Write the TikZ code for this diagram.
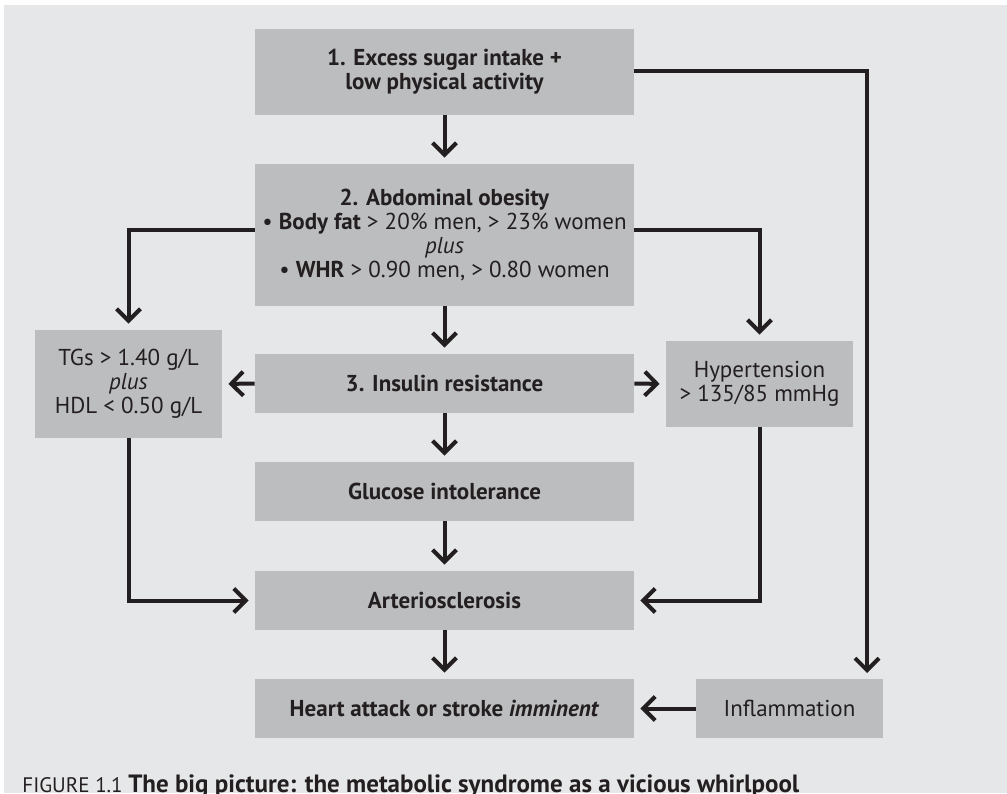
\documentclass[tikz,border=0pt]{standalone}
\usepackage{fontspec}
\setmainfont{PT Sans}
\usetikzlibrary{arrows.meta}
\definecolor{pagebg}{HTML}{E6E7E8}
\definecolor{boxgray}{HTML}{BCBDBF}
\definecolor{ink}{HTML}{231F20}
\tikzset{
  box/.style={fill=boxgray, text=ink, align=center, inner sep=0pt,
    font=\fontsize{11.5}{12}\selectfont},
  mainbox/.style={box, minimum width=189.5pt},
  boldbox/.style={mainbox, font=\fontsize{11.5}{12}\selectfont\bfseries},
  sidebox/.style={box, minimum width=93.5pt},
  arr/.style={draw=ink, line width=2pt,
    -{Straight Barb[length=6pt,width=12pt]}, shorten >=3pt},
}
\begin{document}
\begin{tikzpicture}[x=0.5pt,y=-0.5pt]
\useasboundingbox (0,0) rectangle (1007,793);
\fill[pagebg] (4,5) rectangle (1007,793);

% main column
\node[boldbox, minimum height=43pt] (sugar) at (444.5,72)
  {1. Excess sugar intake +\\low physical activity};
\node[mainbox, minimum height=71pt] (obesity) at (444.5,235)
  {\textbf{2. Abdominal obesity}\\
   \textbullet\ \textbf{Body fat} > 20\% men, > 23\% women\\
   \textit{plus}\\
   \textbullet\ \textbf{WHR} > 0.90 men, > 0.80 women};
\node[boldbox, minimum height=29.5pt] (insulin) at (444.5,383.5) {3. Insulin resistance};
\node[boldbox, minimum height=29.5pt] (glucose) at (444.5,491.5) {Glucose intolerance};
\node[boldbox, minimum height=29.5pt] (arterio) at (444.5,600.5) {Arteriosclerosis};
\node[boldbox, minimum height=29.5pt] (heart) at (444.5,708.5) {Heart attack or stroke \textit{imminent}};

% side boxes
\node[sidebox, minimum height=54pt] (lipids) at (128.5,384)
  {TGs > 1.40 g/L\\\textit{plus}\\HDL < 0.50 g/L};
\node[sidebox, minimum height=43pt] (hyper) at (759.5,384)
  {Hypertension\\> 135/85 mmHg};
\node[sidebox, minimum height=29.5pt] (inflam) at (789.5,708.5) {Inflammation};
\coordinate (inflamin) at (867,679);

% connectors
\foreach \a/\b in {sugar/obesity, obesity/insulin, insulin/glucose, glucose/arterio, arterio/heart}
  \draw[arr] (\a.south) -- (\b.north);
\draw[arr] ([yshift=0.5pt]sugar.east) -| (inflamin);
\draw[arr] ([yshift=2.5pt]obesity.west) -| (lipids.north);
\draw[arr] ([yshift=2.5pt]obesity.east) -| (hyper.north);
\draw[arr] (insulin.west) -- (lipids.east);
\draw[arr] (insulin.east) -- (hyper.west);
\draw[arr] (lipids.south) |- (arterio.west);
\draw[arr] (hyper.south) |- (arterio.east);
\draw[arr] (inflam.west) -- (heart.east);

% caption
\node[anchor=base west, text=ink, inner sep=0pt] (caption) at (22,792)
  {\fontsize{10.5}{12}\selectfont FIGURE 1.1 \fontsize{12.5}{12}\selectfont\bfseries The big picture: the metabolic syndrome as a vicious whirlpool};
\end{tikzpicture}
\end{document}
